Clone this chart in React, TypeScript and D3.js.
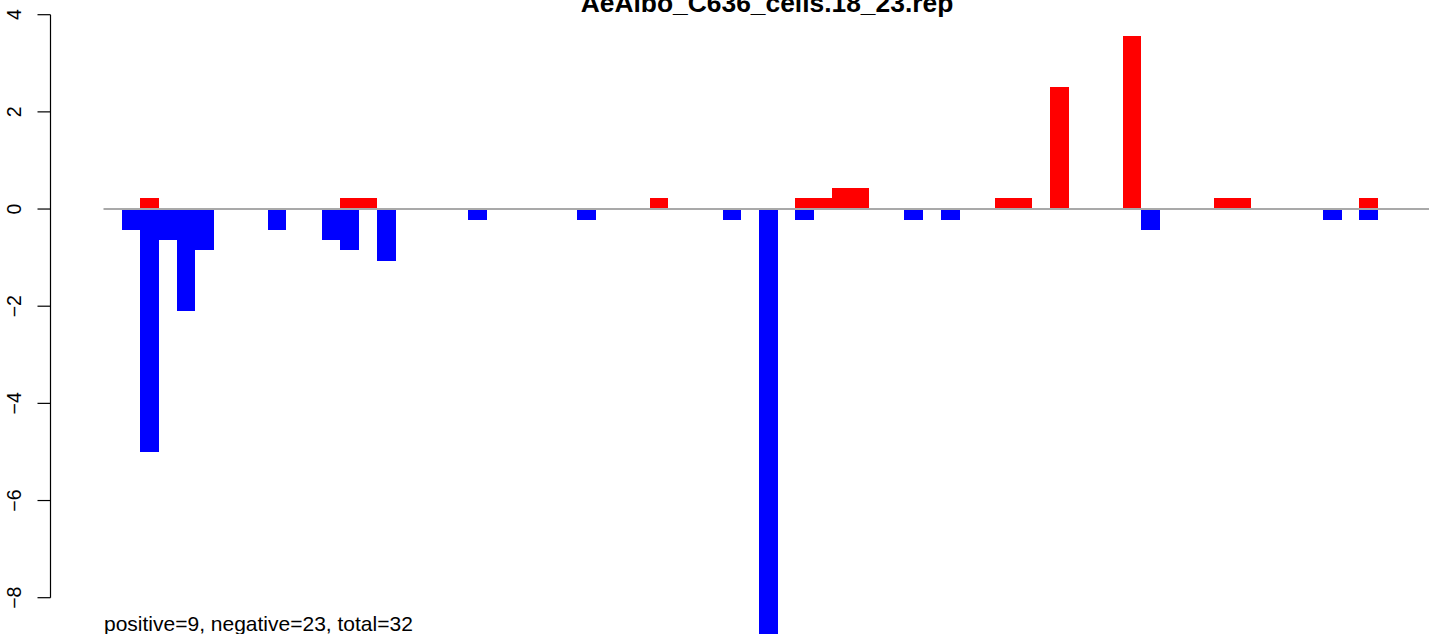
import React from "react";
import * as d3 from "d3";

const TITLE = "AeAlbo_C636_cells.18_23.rep";
const FOOTNOTE = "positive=9, negative=23, total=32";

// slot index along the x axis and value for positive (red) bars
const posSlots = [1, 12, 13, 29, 37, 38, 39, 40, 48, 49, 51, 55, 60, 61, 68];
const posValues = [0.22, 0.22, 0.22, 0.22, 0.22, 0.22, 0.43, 0.43, 0.22, 0.22, 2.51, 3.56, 0.22, 0.22, 0.22];

// slot index and value for negative (blue) bars
const negSlots = [0, 1, 2, 3, 4, 8, 11, 12, 14, 19, 25, 33, 35, 37, 43, 45, 56, 66, 68];
const negValues = [-0.43, -5.0, -0.64, -2.1, -0.85, -0.43, -0.64, -0.85, -1.06, -0.22, -0.22, -0.22, -9.5, -0.22, -0.22, -0.22, -0.43, -0.22, -0.22];

const yTicks = [4, 2, 0, -2, -4, -6, -8];

const W = 1429;
const H = 634;
const FONT = "'Liberation Sans', Arial, Helvetica, sans-serif";

export default function App() {
  React.useEffect(() => {
    document.body.style.margin = "0";
    document.body.style.overflow = "hidden";
  }, []);

  const x = d3.scaleBand<number>().domain(d3.range(-1, 72)).range([104, 1432]).paddingInner(0).paddingOuter(0);
  const y = d3.scaleLinear().domain([-8, 4]).range([597.7, 14.7]);
  const axisX = 50.5;

  const pos = posSlots.map((s, i) => ({ s, v: posValues[i] }));
  const neg = negSlots.map((s, i) => ({ s, v: negValues[i] }));

  const fmt = (t: number) => (t < 0 ? "\u2212" + Math.abs(t) : String(t));

  return (
    <svg width={W} height={H} style={{ position: "absolute", left: 0, top: 0, background: "#fff" }}>
      <rect x={0} y={0} width={W} height={H} fill="#fff" />
      <text x={767} y={12} textAnchor="middle" fontFamily={FONT} fontWeight="bold" fontSize={26.4}>
        {TITLE}
      </text>
      <g shapeRendering="crispEdges">
        {neg.map((d) => (
          <rect key={"n" + d.s} x={x(d.s)} width={x.bandwidth() + 0.5} y={y(0)} height={y(d.v) - y(0)} fill="#0000FF" />
        ))}
        {pos.map((d) => (
          <rect key={"p" + d.s} x={x(d.s)} width={x.bandwidth() + 0.5} y={y(d.v)} height={y(0) - y(d.v)} fill="#FF0000" />
        ))}
      </g>
      <line x1={103.5} x2={W} y1={y(0)} y2={y(0)} stroke="#A9A9A9" strokeWidth={2} />
      <line x1={axisX} x2={axisX} y1={y(4)} y2={y(-8)} stroke="#000" strokeWidth={1.2} />
      {yTicks.map((t) => (
        <g key={t}>
          <line x1={37.5} x2={axisX} y1={y(t)} y2={y(t)} stroke="#000" strokeWidth={1.2} />
          <text
            transform={`translate(20.5,${y(t)}) rotate(-90)`}
            textAnchor="middle"
            fontFamily={FONT}
            fontSize={19.5}
          >
            {fmt(t)}
          </text>
        </g>
      ))}
      <text x={104} y={631} fontFamily={FONT} fontSize={21}>
        {FOOTNOTE}
      </text>
    </svg>
  );
}
